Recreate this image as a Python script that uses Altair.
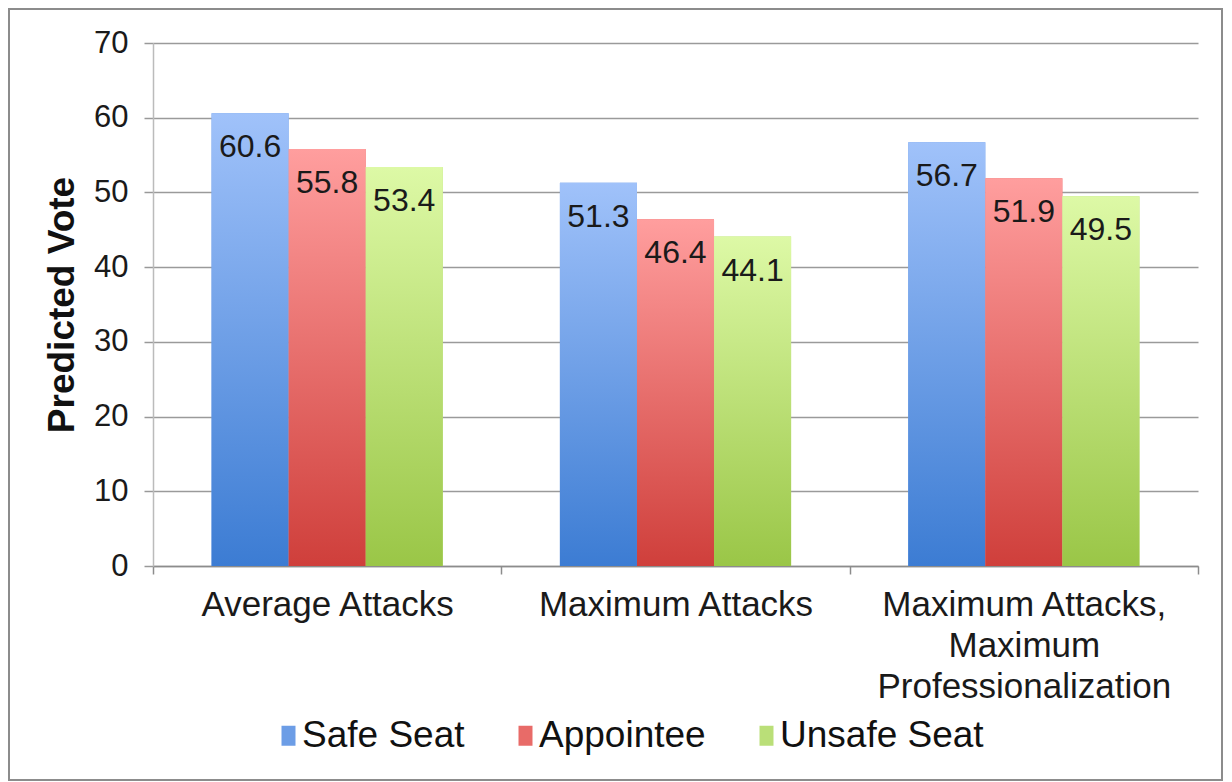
import altair as alt
import pandas as pd

categories = ["Average Attacks", "Maximum Attacks", "Maximum Attacks, Maximum Professionalization"]
series = ["Safe Seat", "Appointee", "Unsafe Seat"]
safe_seat = [60.6, 51.3, 56.7]
appointee = [55.8, 46.4, 51.9]
unsafe_seat = [53.4, 44.1, 49.5]
y_ticks = [0, 10, 20, 30, 40, 50, 60, 70]

mid_colors = ["#6C9DE6", "#E86B68", "#BADF78"]
top_colors = ["#A0C2FA", "#FF9E9E", "#DDF9A6"]
bottom_colors = ["#3C7CD3", "#CF3F3B", "#9AC647"]

rows = []
for s, vals in zip(series, [safe_seat, appointee, unsafe_seat]):
    for c, v in zip(categories, vals):
        rows.append({"category": c, "series": s, "value": v})
df = pd.DataFrame(rows)

FONT = "Liberation Sans"

label_expr = (
    "datum.label == 'Maximum Attacks, Maximum Professionalization' ? "
    "['Maximum Attacks,', 'Maximum', 'Professionalization'] : datum.label"
)

x_enc = alt.X(
    "category:N",
    sort=categories,
    scale=alt.Scale(domain=categories, paddingInner=0, paddingOuter=0),
    axis=alt.Axis(
        title=None, labelAngle=0, labelFont=FONT, labelFontSize=35, labelColor="#1a1a1a",
        labelExpr=label_expr, labelLineHeight=41, labelPadding=13, labelLimit=0,
        tickBand="extent", tickSize=8, tickColor="#8c8c8c", tickWidth=1.5,
        domainColor="#8c8c8c", domainWidth=1.5, grid=False,
    ),
)
xo_enc = alt.XOffset(
    "series:N", sort=series,
    scale=alt.Scale(domain=series, paddingInner=0, paddingOuter=0.76),
)
y_enc = alt.Y(
    "value:Q",
    scale=alt.Scale(domain=[0, 70], nice=False),
    axis=alt.Axis(
        title="Predicted Vote", titleFont=FONT, titleFontSize=37, titleFontWeight="bold",
        titleColor="#111111", titlePadding=12,
        values=y_ticks, labelFont=FONT, labelFontSize=31, labelColor="#1a1a1a", labelPadding=16,
        tickSize=9, tickColor="#999999", tickWidth=1.5,
        domainColor="#bbbbbb", domainWidth=1.5,
        grid=True, gridColor="#9a9a9a", gridWidth=1.5,
    ),
)

base = alt.Chart(df).mark_bar().encode(
    x=x_enc, xOffset=xo_enc, y=y_enc,
    color=alt.Color(
        "series:N", sort=series,
        scale=alt.Scale(domain=series, range=mid_colors),
        legend=alt.Legend(
            title=None, orient="none", direction="horizontal", legendX=112, legendY=674,
            labelFont=FONT, labelFontSize=37, labelColor="#111111", labelOffset=0, labelLimit=0,
            symbolType="M-0.2,-1H1.2V1H-0.2Z", symbolSize=400, symbolStrokeWidth=0,
            symbolOpacity=1, columnPadding=37, padding=0,
        ),
    ),
)

layers = [base]
for i, s in enumerate(series):
    grad = alt.LinearGradient(
        gradient="linear",
        stops=[alt.GradientStop(color=top_colors[i], offset=0),
               alt.GradientStop(color=bottom_colors[i], offset=1)],
        x1=0, x2=0, y1=0, y2=1,
    )
    layers.append(
        alt.Chart(df).transform_filter(alt.datum.series == s)
        .mark_bar(color=grad)
        .encode(x=x_enc, xOffset=xo_enc, y=y_enc)
    )

labels = alt.Chart(df).mark_text(
    dy=34, baseline="middle", align="center", font=FONT, fontSize=32, color="#1a1a1a"
).encode(x=x_enc, xOffset=xo_enc, y=y_enc, text=alt.Text("value:Q", format=".1f"))
layers.append(labels)

border = alt.Chart(pd.DataFrame({"k": [0]})).mark_rect(
    fillOpacity=0, stroke="#8c8c8c", strokeWidth=2
).encode(x=alt.value(-144), x2=alt.value(1069), y=alt.value(-34), y2=alt.value(737))
layers.append(border)

chart = alt.layer(*layers).properties(
    width=1045, height=523,
    padding={"left": 153, "top": 43, "right": 34, "bottom": 216},
    autosize=alt.AutoSizeParams(type="none"),
    background="white",
).configure_view(stroke=None)

chart.save("out.html", embed_options={"renderer": "svg", "actions": False})
